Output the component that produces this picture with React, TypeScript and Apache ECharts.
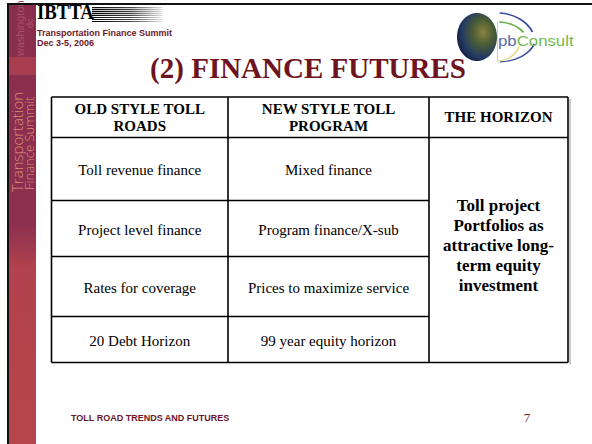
import React, { useEffect, useRef } from "react";
import * as echarts from "echarts";

const title = "(2) FINANCE FUTURES";
const headerOld = ["OLD STYLE TOLL", "ROADS"];
const headerNew = ["NEW STYLE TOLL", "PROGRAM"];
const headerHorizon = "THE HORIZON";
const oldStyle = ["Toll revenue finance", "Project level finance", "Rates for coverage", "20 Debt Horizon"];
const newStyle = ["Mixed finance", "Program finance/X-sub", "Prices to maximize service", "99 year equity horizon"];
const horizonLines = ["Toll project", "Portfolios as", "attractive long-", "term equity", "investment"];
const summitLines = ["Transportation Finance Summit", "Dec 3-5, 2006"];
const footer = "TOLL ROAD TRENDS AND FUTURES";
const pageNo = "7";

const SERIF = "'Liberation Serif', 'Times New Roman', serif";
const SANS = "'Liberation Sans', Arial, sans-serif";

export default function App() {
  const ref = useRef<HTMLDivElement>(null);
  useEffect(() => {
    document.body.style.margin = "0";
    const chart = echarts.init(ref.current!, null, { renderer: "svg" });
    const g: any[] = [];
    // left decorative bar
    g.push({
      type: "rect",
      shape: { x: 9, y: 5, width: 27, height: 439 },
      style: {
        fill: new echarts.graphic.LinearGradient(0, 0, 0, 1, [
          { offset: 0, color: "#8a2e4e" },
          { offset: 0.5, color: "#8d3050" },
          { offset: 0.6, color: "#b2424d" },
          { offset: 1, color: "#b6444c" },
        ]),
      },
      silent: true,
    });
    g.push({ type: "rect", shape: { x: 9, y: 57, width: 27, height: 18 }, style: { fill: "#a83d4f" } });
    g.push({
      type: "text", x: 20, y: 56, rotation: Math.PI / 2,
      style: { text: "washington", font: `11px ${SANS}`, fill: "#a5506c", align: "left", verticalAlign: "middle" },
    });
    g.push({
      type: "text", x: 30, y: 28, rotation: Math.PI / 2,
      style: { text: "dc", font: `9px ${SANS}`, fill: "#a5506c", align: "left", verticalAlign: "middle" },
    });
    g.push({
      type: "text", x: 17, y: 192, rotation: Math.PI / 2,
      style: { text: "Transportation", font: `300 15px 'Open Sans', ${SANS}`, fill: "#e6a07c", opacity: 0.85, align: "left", verticalAlign: "middle" },
    });
    g.push({
      type: "text", x: 29, y: 190, rotation: Math.PI / 2,
      style: { text: "Finance Summit", font: `300 13px 'Open Sans', ${SANS}`, fill: "#e6a07c", opacity: 0.85, align: "left", verticalAlign: "middle" },
    });
    // frame lines
    g.push({ type: "rect", shape: { x: 7, y: 3, width: 585, height: 2 }, style: { fill: "#111" } });
    g.push({ type: "rect", shape: { x: 7, y: 3, width: 2, height: 441 }, style: { fill: "#111" } });

    // IBTTA logo
    g.push({
      type: "text", x: 37, y: 22, scaleX: 0.85,
      style: { text: "IBTTA", font: `bold 22px ${SERIF}`, fill: "#000", align: "left", verticalAlign: "bottom" },
    });
    const stripeGrad = () =>
      new echarts.graphic.LinearGradient(0, 0, 1, 0, [
        { offset: 0, color: "#000" },
        { offset: 0.55, color: "#444" },
        { offset: 1, color: "#e0e0e0" },
      ]);
    for (let i = 0; i < 8; i++) {
      const y = 7 + i * 2;
      g.push({
        type: "rect",
        shape: { x: 92, y, width: 70, height: i < 4 ? 1.3 : 1 },
        style: { fill: stripeGrad() },
      });
    }
    summitLines.forEach((t, i) => {
      g.push({
        type: "text", x: 37, y: 33 + i * 10,
        style: { text: t, font: `bold 9px ${SANS}`, fill: "#6e1628", align: "left", verticalAlign: "middle" },
      });
    });

    // pbConsult logo
    g.push({
      type: "ellipse",
      shape: { cx: 477, cy: 37, rx: 20, ry: 24 },
      style: {
        fill: new echarts.graphic.RadialGradient(0.65, 0.4, 0.75, [
          { offset: 0, color: "#8a8040" },
          { offset: 0.35, color: "#4a5e34" },
          { offset: 0.7, color: "#243a64" },
          { offset: 1, color: "#0e1530" },
        ]),
      },
    });
    g.push({ type: "rect", shape: { x: 497, y: 11, width: 4, height: 53 }, style: { fill: "#fff" } });
    g.push({ type: "arc", shape: { cx: 497, cy: 42, r: 29, startAngle: -1.5, endAngle: -0.35, clockwise: true }, scaleX: 1.3, originX: 497, originY: 42, style: { stroke: "#3a4aa0", lineWidth: 1.5, fill: null } });
    g.push({ type: "arc", shape: { cx: 497, cy: 42, r: 20, startAngle: -1.5, endAngle: -0.5, clockwise: true }, scaleX: 1.5, originX: 497, originY: 42, style: { stroke: "#6ab04a", lineWidth: 1.5, fill: null } });
    g.push({ type: "arc", shape: { cx: 497, cy: 38, r: 24, startAngle: 0.25, endAngle: 1.5, clockwise: true }, scaleX: 1.6, originX: 497, originY: 38, style: { stroke: "#3a4aa0", lineWidth: 1.2, fill: null } });
    g.push({ type: "arc", shape: { cx: 497, cy: 40, r: 21, startAngle: 0.3, endAngle: 1.55, clockwise: true }, scaleX: 1.1, originX: 497, originY: 40, style: { stroke: "#e6d47a", lineWidth: 1.2, fill: null } });
    g.push({ type: "rect", shape: { x: 497, y: 22, width: 1, height: 40 }, style: { fill: "#e6d47a" } });
    g.push({
      type: "text", x: 498, y: 41, scaleX: 1.2,
      style: {
        text: "{a|pb}{b|Consult}",
        align: "left", verticalAlign: "middle",
        rich: {
          a: { font: `14px ${SANS}`, fill: "#5a6ab0" },
          b: { font: `14px ${SANS}`, fill: "#72b850" },
        },
      },
    });

    // title
    g.push({
      type: "text", x: 308, y: 68,
      style: { text: title, font: `bold 29px ${SERIF}`, fill: "#6e1420", align: "center", verticalAlign: "middle" },
    });

    // table
    const L = 51.5, C1 = 228, C2 = 429, R = 568;
    const rowsY = [97, 137.5, 200.5, 256.5, 316.5, 362.5];
    const lw = 1.6;
    const stroke = "#000";
    g.push({ type: "rect", shape: { x: R + 1, y: rowsY[0] + 2, width: 2, height: rowsY[5] - rowsY[0] }, style: { fill: "#ccc" } });
    g.push({ type: "line", shape: { x1: L, y1: rowsY[0], x2: R, y2: rowsY[0] }, style: { stroke, lineWidth: lw } });
    g.push({ type: "line", shape: { x1: L, y1: rowsY[1], x2: R, y2: rowsY[1] }, style: { stroke, lineWidth: lw } });
    for (let i = 2; i < 5; i++) {
      g.push({ type: "line", shape: { x1: L, y1: rowsY[i], x2: C2, y2: rowsY[i] }, style: { stroke, lineWidth: lw } });
    }
    g.push({ type: "line", shape: { x1: L, y1: rowsY[5], x2: R, y2: rowsY[5] }, style: { stroke, lineWidth: lw } });
    [L, C1, C2, R].forEach((x) => {
      g.push({ type: "line", shape: { x1: x, y1: rowsY[0], x2: x, y2: rowsY[5] }, style: { stroke, lineWidth: lw } });
    });
    const cx1 = (L + C1) / 2, cx2 = (C1 + C2) / 2, cx3 = (C2 + R) / 2;
    const hdr = (x: number, lines: string[]) => {
      lines.forEach((t, i) => {
        g.push({
          type: "text", x, y: (rowsY[0] + rowsY[1]) / 2 + (i - (lines.length - 1) / 2) * 17,
          style: { text: t, font: `bold 15px ${SERIF}`, fill: "#000", align: "center", verticalAlign: "middle" },
        });
      });
    };
    hdr(cx1, headerOld);
    hdr(cx2, headerNew);
    hdr(cx3, [headerHorizon]);
    oldStyle.forEach((t, i) => {
      const y = (rowsY[i + 1] + rowsY[i + 2]) / 2 + 1;
      g.push({ type: "text", x: cx1, y, style: { text: t, font: `15px ${SERIF}`, fill: "#000", align: "center", verticalAlign: "middle" } });
      g.push({ type: "text", x: cx2, y, style: { text: newStyle[i], font: `15px ${SERIF}`, fill: "#000", align: "center", verticalAlign: "middle" } });
    });
    horizonLines.forEach((t, i) => {
      g.push({
        type: "text", x: cx3, y: 245 + (i - 2) * 20,
        style: { text: t, font: `bold 17px ${SERIF}`, fill: "#000", align: "center", verticalAlign: "middle" },
      });
    });

    // footer
    g.push({ type: "text", x: 71, y: 418, style: { text: footer, font: `bold 9px ${SANS}`, fill: "#6e1628", align: "left", verticalAlign: "middle" } });
    g.push({ type: "text", x: 527, y: 417, style: { text: pageNo, font: `13px ${SERIF}`, fill: "#7a2030", align: "center", verticalAlign: "middle" } });

    chart.setOption({ animation: false, graphic: { elements: g } });
    return () => chart.dispose();
  }, []);
  return <div ref={ref} style={{ position: "absolute", left: 0, top: 0, width: 592, height: 444, background: "#fff" }} />;
}
